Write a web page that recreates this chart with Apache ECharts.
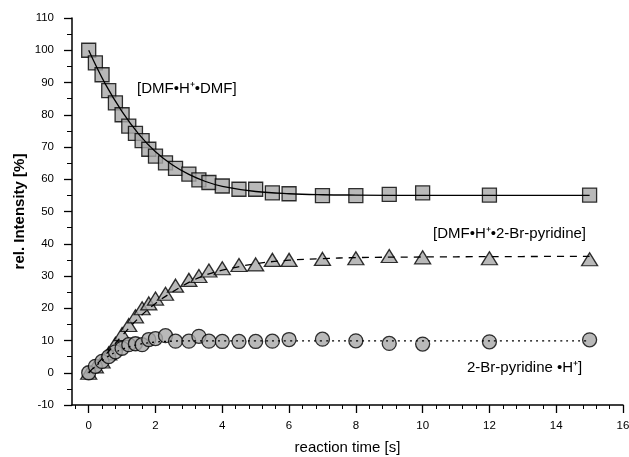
<!DOCTYPE html>
<html>
<head>
<meta charset="utf-8">
<script src="https://cdn.jsdelivr.net/npm/echarts@6/dist/echarts.min.js"></script>
<style>html,body{margin:0;padding:0;background:#fff}#c{width:629px;height:457px}</style>
</head>
<body>
<div id="c"></div>
<script>
// reaction times [s]
const times = [0, 0.2, 0.4, 0.6, 0.8, 1.0, 1.2, 1.4, 1.6, 1.8, 2.0, 2.3, 2.6, 3.0, 3.3, 3.6, 4.0, 4.5, 5.0, 5.5, 6.0, 7, 8, 9, 10, 12, 15];
// [DMF•H+•DMF]
const dmfDmf = [100, 96.1, 92.4, 87.5, 83.7, 80.0, 76.5, 74.2, 72.0, 69.3, 67.2, 65.1, 63.4, 61.6, 59.8, 59.0, 57.9, 56.9, 56.9, 55.8, 55.5, 54.9, 54.9, 55.3, 55.8, 55.1, 55.1];
// [DMF•H+•2-Br-pyridine]
const dmfBrpy = [0, 2, 3.5, 6, 9, 12, 14.8, 17.5, 20, 21.5, 23, 24.5, 27, 28.8, 30, 31.7, 32.4, 33.4, 33.6, 35, 35, 35.3, 35.5, 36.2, 35.8, 35.5, 35.2];
// 2-Br-pyridine•H+
const brpyH = [0, 2, 3.5, 5, 6.5, 7.6, 8.7, 9, 8.7, 10.3, 10.6, 11.5, 9.8, 9.8, 11.3, 9.8, 9.7, 9.7, 9.7, 9.8, 10.3, 10.4, 9.9, 9.1, 8.9, 9.6, 10.2];

// fitted curves
const fitTimes = [0, 0.5, 1, 1.5, 2, 2.5, 3, 3.5, 4, 5, 6, 7, 8, 10, 12, 15];
const fitDmfDmf = [100, 89.5, 81, 74, 68.5, 64.5, 61.5, 59.3, 57.8, 56.2, 55.5, 55.2, 55.1, 55, 55, 55];
const fitDmfBrpy = [0, 5.5, 11.5, 17, 21.5, 25, 28, 30.3, 31.8, 33.8, 34.9, 35.4, 35.7, 35.9, 36.0, 36.1];
const fitBrpyH = [0, 4.5, 7.3, 8.8, 9.5, 9.8, 9.9, 9.9, 9.9, 9.9, 9.9, 9.9, 9.9, 9.9, 9.9, 9.9];

// x-axis tick labels and minor tick positions
const xMajor = [0, 2, 4, 6, 8, 10, 12, 14, 16];
const xMinor = [-0.4, 0.4, 0.8, 1.2, 1.6, 2.4, 2.8, 3.2, 3.6, 4.4, 4.8, 5.2, 5.6, 6.4, 6.8, 7.2, 7.6,
                8.4, 8.8, 9.2, 9.6, 10.4, 10.8, 11.2, 11.6, 12.4, 12.8, 13.2, 13.6, 14.4, 14.8, 15.2, 15.6];

const pair = (xs, ys) => xs.map((x, i) => [x, ys[i]]);
const font = 'Liberation Sans, Arial, sans-serif';
const fill = '#a8a8a8';

const chart = echarts.init(document.getElementById('c'), null, {renderer: 'canvas'});
chart.setOption({
  animation: false,
  backgroundColor: '#fff',
  grid: {left: 72, right: 6, top: 18, bottom: 52, containLabel: false, outerBoundsMode: 'none'},
  xAxis: [{
    type: 'value', min: -0.5, max: 16,
    axisLine: {onZero: false, lineStyle: {color: '#000', width: 1.5}},
    axisTick: {customValues: xMajor, length: 8, lineStyle: {color: '#000', width: 1.3}},
    axisLabel: {customValues: xMajor, color: '#000', fontSize: 11.5, fontFamily: font, margin: 15},
    splitLine: {show: false},
    name: 'reaction time [s]', nameLocation: 'middle', nameGap: 35, nameMoveOverlap: false,
    nameTextStyle: {color: '#000', fontSize: 15, fontFamily: font}
  }, {
    type: 'value', min: -0.5, max: 16, position: 'bottom',
    axisLine: {show: false, onZero: false},
    axisTick: {customValues: xMinor, length: 4, lineStyle: {color: '#000', width: 1}},
    axisLabel: {show: false},
    splitLine: {show: false}
  }],
  yAxis: {
    type: 'value', min: -10, max: 110, interval: 10,
    axisLine: {show: true, onZero: false, lineStyle: {color: '#000', width: 1.5}},
    axisTick: {show: true, length: 8, lineStyle: {color: '#000', width: 1.3}},
    minorTick: {show: true, splitNumber: 2, length: 5, lineStyle: {color: '#000', width: 1}},
    axisLabel: {color: '#000', fontSize: 11.5, fontFamily: font, margin: 18},
    splitLine: {show: false},
    name: 'rel. Intensity [%]', nameLocation: 'middle', nameGap: 45, nameMoveOverlap: false,
    nameTextStyle: {color: '#000', fontSize: 15, fontWeight: 'bold', fontFamily: font}
  },
  series: [
    {type: 'scatter', data: pair(times, dmfDmf), symbol: 'rect', symbolSize: 14,
     itemStyle: {color: fill, borderColor: '#000', borderWidth: 1.3}, z: 2},
    {type: 'scatter', data: pair(times, dmfBrpy), symbol: 'triangle', symbolSize: [16, 13],
     itemStyle: {color: fill, borderColor: '#000', borderWidth: 1.3}, z: 2},
    {type: 'scatter', data: pair(times, brpyH), symbol: 'circle', symbolSize: 14,
     itemStyle: {color: fill, borderColor: '#000', borderWidth: 1.3}, z: 2},
    {type: 'line', data: pair(fitTimes, fitDmfDmf), smooth: 0.4, showSymbol: false,
     lineStyle: {color: '#000', width: 1.3, type: 'solid'}, z: 3},
    {type: 'line', data: pair(fitTimes, fitDmfBrpy), smooth: 0.4, showSymbol: false,
     lineStyle: {color: '#000', width: 1.3, type: [7, 6]}, z: 3},
    {type: 'line', data: pair(fitTimes, fitBrpyH), smooth: 0.4, showSymbol: false,
     lineStyle: {color: '#000', width: 1.3, type: [2, 4]}, z: 3}
  ],
  graphic: [
    {type: 'text', left: 137, top: 81, style: {text: '[DMF•H⁺•DMF]', fill: '#000', font: '15px ' + font}},
    {type: 'text', left: 433, top: 226, style: {text: '[DMF•H⁺•2-Br-pyridine]', fill: '#000', font: '15px ' + font}},
    {type: 'text', left: 467, top: 360, style: {text: '2-Br-pyridine •H⁺]', fill: '#000', font: '15px ' + font}}
  ]
});
</script>
</body>
</html>
